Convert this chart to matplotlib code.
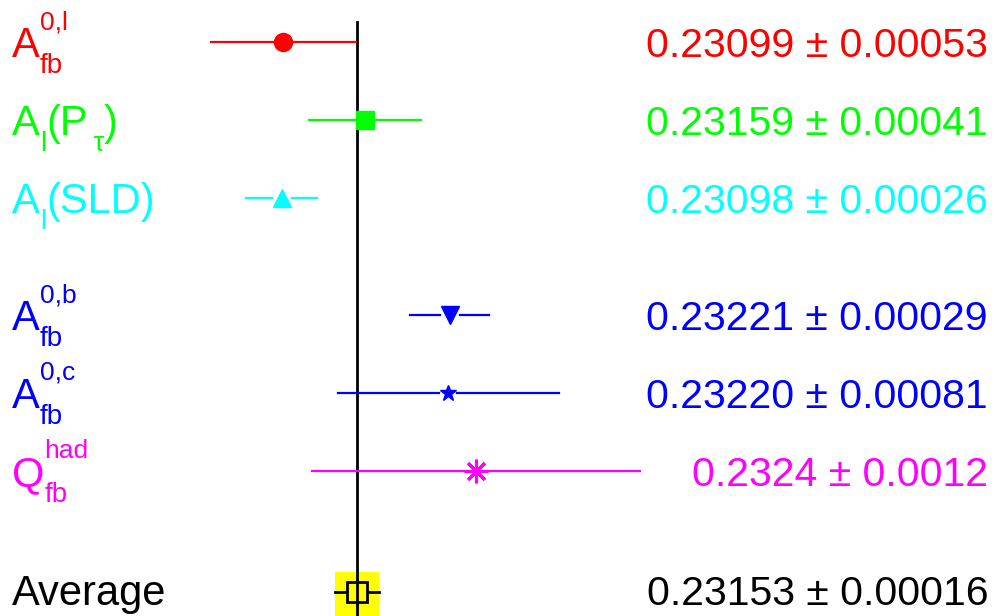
import matplotlib
matplotlib.use('Agg')
import matplotlib.pyplot as plt
import matplotlib.transforms as mtransforms

plt.rcParams['font.family'] = ['Liberation Sans', 'DejaVu Sans']

# measurements of sin^2 theta_eff
# label pieces: (main text, subscript, superscript)
labels = [[('A', 'fb', '0,l')],
          [('A', 'l', ''), ('(P', '\u2009\u03c4', ''), (')', '', '')],
          [('A', 'l', ''), ('(SLD)', '', '')],
          [('A', 'fb', '0,b')],
          [('A', 'fb', '0,c')],
          [('Q', 'fb', 'had')]]
values = [0.23099, 0.23159, 0.23098, 0.23221, 0.23220, 0.2324]
errors = [0.00053, 0.00041, 0.00026, 0.00029, 0.00081, 0.0012]
value_text = ['0.23099 \u00b1 0.00053', '0.23159 \u00b1 0.00041',
              '0.23098 \u00b1 0.00026', '0.23221 \u00b1 0.00029',
              '0.23220 \u00b1 0.00081', '0.2324 \u00b1 0.0012']
rows = [0, 1, 2, 3.5, 4.5, 5.5]
colors = ['#ff0000', '#00ff00', '#00ffff', '#0000ff', '#0000ff', '#ff00ff']
markers = ['o', 's', '^', 'v', '*', (8, 2, 0)]
msizes = [13, 13.5, 13, 13, 12, 17]
gaps_px = [0, 0, 10, 10, 9, 0]

avg_label = [('Average', '', '')]
avg_value = 0.23153
avg_error = 0.00016
avg_text = '0.23153 \u00b1 0.00016'
avg_row = 7.05

px = 0.001 / 136.5   # data units per pixel

fig = plt.figure(figsize=(9.94, 6.16), dpi=100)
ax = fig.add_axes([0, 0, 1, 1])
ax.set_xlim(avg_value - 357 * px, avg_value + 637 * px)
ax.set_ylim(7.36, -0.54)
ax.axis('off')
renderer = fig.canvas.get_renderer()
trans = mtransforms.blended_transform_factory(ax.transAxes, ax.transData)


def draw_label(pieces, row, color):
    # compose text with sub/superscripts, x offsets in pixels
    x = 0
    for main, sub, sup in pieces:
        t = ax.annotate(main, xy=(0.012, row), xycoords=trans, xytext=(x, -15),
                        textcoords='offset pixels', color=color, fontsize=30,
                        ha='left', va='baseline')
        x += t.get_window_extent(renderer).width
        w = 0
        if sub:
            s = ax.annotate(sub, xy=(0.012, row), xycoords=trans, xytext=(x, -31),
                            textcoords='offset pixels', color=color, fontsize=20,
                            ha='left', va='baseline')
            w = max(w, s.get_window_extent(renderer).width)
        if sup:
            s = ax.annotate(sup, xy=(0.012, row), xycoords=trans, xytext=(x, 13),
                            textcoords='offset pixels', color=color, fontsize=19,
                            ha='left', va='baseline')
            w = max(w, s.get_window_extent(renderer).width)
        x += w


def draw_value(txt, row, color):
    ax.annotate(txt, xy=(0.994, row), xycoords=trans, xytext=(0, -15),
                textcoords='offset pixels', color=color, fontsize=29.5,
                ha='right', va='baseline')


# yellow band for the average
ax.fill_between([avg_value - avg_error, avg_value + avg_error], 6.79, 7.36,
                color='#ffff00', lw=0, zorder=1)
# vertical line at the average
ax.plot([avg_value, avg_value], [-0.26, 7.36], color='black', lw=2, zorder=2)

for i in range(len(values)):
    v, e, r, c = values[i], errors[i], rows[i], colors[i]
    gap = gaps_px[i] * px
    ax.plot([v - e, v - gap], [r, r], color=c, lw=1.6, zorder=3)
    ax.plot([v + gap, v + e], [r, r], color=c, lw=1.6, zorder=3)
    if markers[i] == (8, 2, 0):
        ax.plot(v, r, marker=markers[i], ms=msizes[i], mec=c, mew=2.2, ls='none', zorder=4)
    else:
        ax.plot(v, r, marker=markers[i], ms=msizes[i], color=c, mec=c, ls='none', zorder=4)
    draw_label(labels[i], r, c)
    draw_value(value_text[i], r, c)

# average
ax.plot([avg_value - avg_error, avg_value + avg_error], [avg_row, avg_row],
        color='black', lw=2, zorder=3)
ax.plot(avg_value, avg_row, marker='s', ms=15, mfc='#ffff00', mec='black', mew=2,
        ls='none', zorder=4)
ax.plot([avg_value, avg_value], [avg_row - 0.15, avg_row + 0.15], color='black', lw=2, zorder=5)
draw_label(avg_label, avg_row - 0.02, 'black')
draw_value(avg_text, avg_row - 0.02, 'black')

fig.savefig('out.png', dpi=100)
